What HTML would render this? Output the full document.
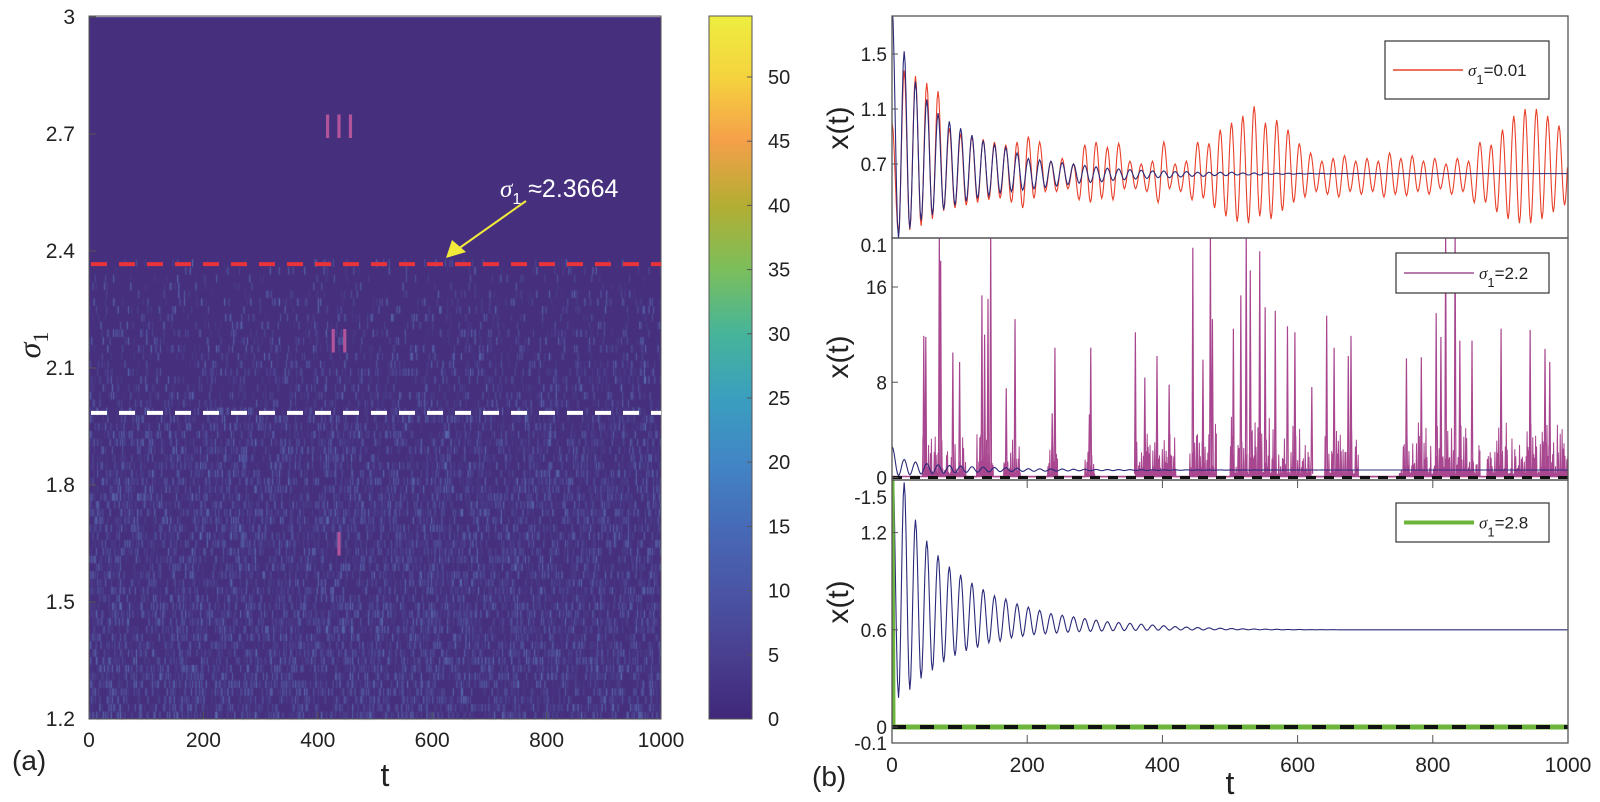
<!DOCTYPE html>
<html><head><meta charset="utf-8">
<style>
html,body{margin:0;padding:0;background:#fff;}
#wrap{position:relative;width:1600px;height:802px;overflow:hidden;font-family:"Liberation Sans Narrow","Liberation Sans",sans-serif;}
canvas{position:absolute;left:0;top:0;}
svg{position:absolute;left:0;top:0;}
</style></head>
<body>
<div id="wrap">
<canvas id="heat" width="1600" height="802"></canvas>
<svg id="fig" width="1600" height="802" xmlns="http://www.w3.org/2000/svg"></svg>
</div>
<script>
// ---------- DATA ----------
const sigmaBandEdges = [1.2, 1.5, 1.8, 2.0, 2.1, 2.2, 2.3, 2.37];
const sigmaBandDensity = [0.42, 0.38, 0.32, 0.22, 0.16, 0.12, 0.07];
const sigmaCritical = 2.3664;
const sigmaWhite = 1.985;
const heatYTicks = [1.2, 1.5, 1.8, 2.1, 2.4, 2.7, 3];
const heatYTickLabels = ["1.2", "1.5", "1.8", "2.1", "2.4", "2.7", "3"];
const tTicks = [0, 200, 400, 600, 800, 1000];
const tTickLabels = ["0", "200", "400", "600", "800", "1000"];
const cbTicks = [0, 5, 10, 15, 20, 25, 30, 35, 40, 45, 50];
const cbStops = [0, 5, 10, 15, 20, 25, 30, 35, 40, 45, 50, 54.7];
const cbColors = ["#40287a","#4a3f90","#4b55a6","#476bb8","#4286c6","#3a9fbf","#46b59a","#7cbf5c","#b4ae33","#f5a04a","#f5d43e","#eeee40"];

const oscStart = 18, oscPeriod = 16.7;
const redPeaks = [1.38,1.34,1.29,1.23,0.96,0.92,0.90,0.88,0.86,0.84,0.86,0.90,0.86,0.72,0.74,0.70,0.84,0.86,0.82,0.85,0.72,0.70,0.72,0.86,0.70,0.72,0.86,0.85,0.95,1.00,1.05,1.12,1.00,1.02,0.95,0.85,0.78,0.72,0.74,0.76,0.72,0.74,0.72,0.78,0.74,0.76,0.72,0.74,0.70,0.74,0.72,0.86,0.84,0.95,1.05,1.10,1.10,1.05,0.98,0.95];
const redTroughs = [0.20,0.22,0.25,0.30,0.36,0.38,0.40,0.42,0.44,0.45,0.42,0.38,0.45,0.50,0.50,0.52,0.44,0.42,0.45,0.44,0.52,0.52,0.50,0.42,0.52,0.50,0.44,0.45,0.38,0.32,0.28,0.27,0.32,0.30,0.36,0.42,0.46,0.50,0.48,0.46,0.50,0.48,0.50,0.46,0.48,0.47,0.50,0.48,0.52,0.48,0.50,0.42,0.42,0.35,0.30,0.27,0.27,0.30,0.35,0.40];
const bluePeaks = [1.52,1.30,1.17,1.07,1.01,0.96,0.91,0.87,0.84,0.82,0.78,0.74,0.73,0.72,0.71,0.70,0.69,0.68,0.67,0.665,0.66,0.655,0.65,0.65,0.645,0.645,0.64,0.64,0.64,0.64,0.635,0.635,0.635,0.633,0.633,0.632,0.632,0.632,0.631,0.631,0.631,0.63,0.63,0.63,0.63,0.63,0.63,0.63,0.63,0.63,0.63,0.63,0.63,0.63,0.63,0.63,0.63,0.63,0.63,0.63];
const blueTroughs = [0.16,0.23,0.29,0.33,0.37,0.40,0.43,0.45,0.47,0.49,0.50,0.51,0.52,0.53,0.54,0.55,0.56,0.565,0.57,0.58,0.585,0.59,0.595,0.60,0.60,0.605,0.61,0.61,0.615,0.615,0.62,0.62,0.62,0.625,0.625,0.626,0.627,0.628,0.628,0.629,0.629,0.63,0.63,0.63,0.63,0.63,0.63,0.63,0.63,0.63,0.63,0.63,0.63,0.63,0.63,0.63,0.63,0.63,0.63,0.63];
const blue3Peaks = [1.51,1.28,1.15,1.06,0.99,0.94,0.89,0.85,0.81,0.79,0.76,0.74,0.72,0.70,0.69,0.68,0.67,0.66,0.65,0.645,0.64,0.635,0.63,0.625,0.62,0.617,0.614,0.612,0.61,0.608,0.606,0.605,0.604,0.603,0.602,0.602,0.601,0.601,0.601,0.6,0.6,0.6,0.6,0.6,0.6,0.6,0.6,0.6,0.6,0.6,0.6,0.6,0.6,0.6,0.6,0.6,0.6,0.6,0.6,0.6];
const blue3Troughs = [0.18,0.23,0.30,0.35,0.40,0.44,0.47,0.49,0.52,0.53,0.55,0.56,0.57,0.575,0.58,0.585,0.588,0.59,0.592,0.594,0.595,0.596,0.597,0.598,0.598,0.599,0.599,0.599,0.6,0.6,0.6,0.6,0.6,0.6,0.6,0.6,0.6,0.6,0.6,0.6,0.6,0.6,0.6,0.6,0.6,0.6,0.6,0.6,0.6,0.6,0.6,0.6,0.6,0.6,0.6,0.6,0.6,0.6,0.6,0.6];

const spikeT = [47,50,70,72,90,100,133,137,142,146,169,182,237,241,292,294,360,374,392,410,445,460,471,474,505,516,524,530,544,552,567,585,596,621,643,654,675,679,761,783,805,812,819,833,840,858,901,944,966,973];
const spikeH = [11.9,11.8,21,18.2,10.5,9.7,15.3,12,15,21,7.5,13.3,5.4,10.9,5.3,10.9,12.2,8.4,10.2,7.8,19.3,9.9,21,13.3,12.5,15.3,21,17.4,19,14.3,14,12.7,12.2,7.6,13.6,10.9,10.2,11.9,10,10.1,13.8,11.8,21,21,11.5,11.5,12.5,12.4,10.8,9.7];
const burstStart = [45,125,165,230,285,360,440,500,640,750,880];
const burstEnd = [110,150,190,245,300,420,480,620,690,870,1000];
const burstAmp = [4,4,3,2.5,2.5,3.5,5,5,4,4.5,4.5];

// ---------- helpers ----------
const NS = "http://www.w3.org/2000/svg";
const svg = document.getElementById("fig");
function mk(tag, attrs, parent) {
  const e = document.createElementNS(NS, tag);
  for (const k in attrs) e.setAttribute(k, attrs[k]);
  (parent || svg).appendChild(e);
  return e;
}
function hash(a, b) {
  let h = (a * 374761393 + b * 668265263) | 0;
  h = (h ^ (h >>> 13)) * 1274126177 | 0;
  h = h ^ (h >>> 16);
  return ((h >>> 0) % 10000) / 10000;
}
const FONT = '"Liberation Sans Narrow","Liberation Sans",sans-serif';

const L = {x0: 89, x1: 661, y0: 17, y1: 719};
const hx = t => L.x0 + (t / 1000) * (L.x1 - L.x0);
const hy = s => L.y1 - (s - 1.2) / 1.8 * (L.y1 - L.y0);
const R = {x0: 892, x1: 1568};
const rx = t => R.x0 + (t / 1000) * (R.x1 - R.x0);
const P1 = {top: 16, bot: 238, y: v => 164 - (v - 0.7) * (110 / 0.8)};
const P2 = {top: 238, bot: 480, y: v => 477.5 - v * (190.5 / 16)};
const P3 = {top: 480, bot: 743, y: v => 727 - v * (194.4 / 1.2)};
const CB = {x0: 709, x1: 752, y0: 16, y1: 719, y: v => 719 - v * (642 / 50)};

// ---------- heatmap (canvas) ----------
const cv = document.getElementById("heat");
const ctx = cv.getContext("2d");
ctx.fillStyle = "#46307e";
ctx.fillRect(L.x0, L.y0, L.x1 - L.x0, L.y1 - L.y0);
function bandDensity(s) {
  for (let i = 0; i < sigmaBandDensity.length; i++) if (s >= sigmaBandEdges[i] && s < sigmaBandEdges[i + 1]) return sigmaBandDensity[i];
  return 0;
}
for (let r = 0; r < 117; r += 2) {
  const s = 1.2 + r * 0.01;
  const d = bandDensity(s);
  const yTop = hy(s + 0.02), yBot = hy(s);
  for (let c = 0; c < 500; c++) {
    const h = hash(r, c);
    if (h < d) {
      const k = hash(c + 7, r + 13);
      const inten = 0.15 + 0.85 * k * k;
      const R_ = Math.round(70 + 20 * inten), G_ = Math.round(48 + 62 * inten), B_ = Math.round(126 + 52 * inten);
      ctx.fillStyle = `rgb(${R_},${G_},${B_})`;
      ctx.fillRect(hx(c * 2), yTop + 0.5, 1.15, yBot - yTop - 0.3);
    }
  }
}
const grd = ctx.createLinearGradient(0, CB.y1, 0, CB.y0);
cbStops.forEach((v, i) => grd.addColorStop(Math.min(1, v / 54.7), cbColors[i]));
ctx.fillStyle = grd;
ctx.fillRect(CB.x0, CB.y0, CB.x1 - CB.x0, CB.y1 - CB.y0);

// ---------- left panel svg ----------
const gL = mk("g", { });
mk("rect", {x: L.x0, y: L.y0 - 1, width: L.x1 - L.x0, height: L.y1 - L.y0 + 1, fill: "none", stroke: "#555", "stroke-width": 1,  }, gL);
heatYTicks.forEach((s, i) => {
  const y = hy(s);
  mk("line", {x1: L.x0, x2: L.x0 + 7, y1: y, y2: y, stroke: "#555", "stroke-width": 1}, gL);
  const t = mk("text", {x: L.x0 - 14, y: y + 7, "text-anchor": "end", "font-size": 21, fill: "#222", "font-family": FONT}, gL);
  t.textContent = heatYTickLabels[i];
  
  
});
tTicks.forEach((v, i) => {
  const x = hx(v);
  mk("line", {x1: x, x2: x, y1: L.y1, y2: L.y1 - 7, stroke: "#555", "stroke-width": 1}, gL);
  const t = mk("text", {x: x, y: 747, "text-anchor": "middle", "font-size": 21, fill: "#222", "font-family": FONT}, gL);
  t.textContent = tTickLabels[i];
  
  
});
mk("line", {x1: L.x0 + 2, x2: L.x1, y1: hy(sigmaCritical), y2: hy(sigmaCritical), stroke: "#e8333a", "stroke-width": 4, "stroke-dasharray": "16 12",  }, gL);
mk("line", {x1: L.x0 + 2, x2: L.x1, y1: hy(sigmaWhite), y2: hy(sigmaWhite), stroke: "#ffffff", "stroke-width": 4, "stroke-dasharray": "16 12",  }, gL);
[["III", 2.72], ["II", 2.17], ["I", 1.65]].forEach(([lab, s]) => {
  const t = mk("text", {x: 340, y: hy(s) + 12, "text-anchor": "middle", "font-size": 34, fill: "#b2549a", "font-family": FONT, "letter-spacing": "2"}, gL);
  t.textContent = lab;
  
  
});
const ann = mk("text", {x: 500, y: 197, "font-size": 25, fill: "#fff", "font-family": '"Liberation Sans",sans-serif'}, gL);
ann.innerHTML = '<tspan font-style="italic" font-family="Liberation Serif, serif">σ</tspan><tspan font-size="16" dy="7">1</tspan><tspan dy="-7"> ≈2.3664</tspan>';


mk("line", {x1: 526, y1: 201, x2: 458, y2: 249, stroke: "#f2ea3a", "stroke-width": 2,  }, gL);
mk("polygon", {points: "446,258 452,240 466,252", fill: "#f2ea3a",  }, gL);
const ylab = mk("text", {x: 0, y: 0, "font-size": 32, fill: "#222", "font-family": '"Liberation Serif",serif', transform: "translate(40,345) rotate(-90)", "text-anchor": "middle"}, gL);
ylab.innerHTML = '<tspan font-style="italic">σ</tspan><tspan font-size="22" dy="8">1</tspan>';


const xlabL = mk("text", {x: 385, y: 786, "font-size": 32, fill: "#222", "font-family": FONT, "text-anchor": "middle"}, gL);
xlabL.textContent = "t";


const pa = mk("text", {x: 12, y: 770, "font-size": 28, fill: "#222", "font-family": '"Liberation Sans",sans-serif'}, gL);
pa.textContent = "(a)";



const gCB = mk("g", { });
mk("rect", {x: CB.x0, y: CB.y0, width: CB.x1 - CB.x0, height: CB.y1 - CB.y0, fill: "none", stroke: "#555", "stroke-width": 1}, gCB);
cbTicks.forEach(v => {
  const y = CB.y(v);
  mk("line", {x1: CB.x1 - 5, x2: CB.x1, y1: y, y2: y, stroke: "#555", "stroke-width": 1}, gCB);
  const t = mk("text", {x: 768, y: y + 7, "font-size": 20, fill: "#222", "font-family": FONT}, gCB);
  t.textContent = String(v);
  
  
});

function oscPath(startV, troughs, peaks, yf) {
  const ext = [[0, startV]];
  for (let k = 0; k < peaks.length; k++) {
    const tp = oscStart + k * oscPeriod;
    ext.push([tp - oscPeriod / 2, troughs[k]]);
    ext.push([tp, peaks[k]]);
  }
  let d = "";
  for (let i = 0; i < ext.length - 1; i++) {
    const [t0, v0] = ext[i], [t1, v1] = ext[i + 1];
    for (let j = 0; j <= 6; j++) {
      const f = j / 6, w = (1 - Math.cos(Math.PI * f)) / 2;
      const t = t0 + (t1 - t0) * f;
      if (t > 1000) break;
      const v = v0 + (v1 - v0) * w;
      d += (d ? "L" : "M") + rx(t).toFixed(2) + "," + yf(v).toFixed(2);
    }
  }
  return d;
}
function panelFrame(P, name, yticks, ylabels) {
  const g = mk("g", { });
  const cid = name + "-clip";
  const cp = mk("clipPath", {id: cid}, g);
  mk("rect", {x: R.x0, y: P.top, width: R.x1 - R.x0, height: P.bot - P.top}, cp);
  const inner = mk("g", {"clip-path": `url(#${cid})`}, g);
  yticks.forEach((v, i) => {
    const y = P.y(v);
    mk("line", {x1: R.x0, x2: R.x0 + 6, y1: y, y2: y, stroke: "#555", "stroke-width": 1}, g);
    const t = mk("text", {x: R.x0 - 5, y: y + 7, "text-anchor": "end", "font-size": 19, fill: "#222", "font-family": FONT}, g);
    t.textContent = ylabels[i];
    
    
  });
  return {g, inner};
}
function legend(g, x0, y0, x1, y1, color, w, label) {
  const lg = mk("g", { }, g);
  mk("rect", {x: x0, y: y0, width: x1 - x0, height: y1 - y0, fill: "#fff", stroke: "#333", "stroke-width": 1.2}, lg);
  const ym = (y0 + y1) / 2;
  mk("line", {x1: x0 + 8, x2: x0 + 78, y1: ym, y2: ym, stroke: color, "stroke-width": w}, lg);
  const t = mk("text", {x: x0 + 83, y: ym + 6, "font-size": 17, fill: "#222", "font-family": FONT}, lg);
  t.innerHTML = '<tspan font-style="italic" font-family="Liberation Serif, serif">σ</tspan><tspan font-size="13" dy="8">1</tspan><tspan dy="-8">=' + label + '</tspan>';
}

const p1 = panelFrame(P1, "panel-sigma-0-01", [1.5, 1.1, 0.7], ["1.5", "1.1", "0.7"]);
mk("path", {d: oscPath(1.0, redTroughs, redPeaks, P1.y), fill: "none", stroke: "#e8402a", "stroke-width": 1.1,  }, p1.inner);
mk("path", {d: oscPath(1.85, blueTroughs, bluePeaks, P1.y), fill: "none", stroke: "#2b2a7a", "stroke-width": 1.1,  }, p1.inner);
legend(p1.g, 1385, 41, 1549, 99, "#e8402a", 1.5, "0.01");
const l01 = mk("text", {x: R.x0 - 5, y: 252, "text-anchor": "end", "font-size": 19, fill: "#222", "font-family": FONT,  });
l01.textContent = "0.1";

const p2 = panelFrame(P2, "panel-sigma-2-2", [16, 8, 0], ["16", "8", "0"]);
let dB = "";
burstStart.forEach((s, i) => {
  for (let t = s, j = 0; t <= burstEnd[i]; t += 0.7, j++) {
    const v = (j % 2 === 0) ? 0.05 : burstAmp[i] * Math.pow(hash(i * 1000 + j, 77), 2.0) + 0.3;
    dB += (dB ? "L" : "M") + rx(t).toFixed(2) + "," + P2.y(v).toFixed(2);
  }
  dB += "L" + rx(burstEnd[i]).toFixed(2) + "," + P2.y(0.05).toFixed(2);
});
mk("line", {x1: R.x0, x2: R.x1, y1: P2.y(0.08), y2: P2.y(0.08), stroke: "#a8468f", "stroke-width": 1.5}, p2.inner);
mk("path", {d: dB, fill: "none", stroke: "#a8468f", "stroke-width": 1,  }, p2.inner);
let dS = "";
spikeT.forEach((t, i) => {
  const x = rx(t);
  dS += `M${(x - 0.8).toFixed(2)},${P2.y(0.3).toFixed(2)}L${x.toFixed(2)},${P2.y(spikeH[i]).toFixed(2)}L${(x + 0.8).toFixed(2)},${P2.y(0.3).toFixed(2)}`;
});
mk("path", {d: dS, fill: "none", stroke: "#a8468f", "stroke-width": 1.2,  }, p2.inner);
mk("path", {d: oscPath(2.6, blueTroughs, bluePeaks, P2.y), fill: "none", stroke: "#2b2a7a", "stroke-width": 1.1,  }, p2.inner);
mk("line", {x1: R.x0, x2: R.x1, y1: P2.y(0), y2: P2.y(0), stroke: "#111", "stroke-width": 3, "stroke-dasharray": "10 8",  }, p2.inner);
legend(p2.g, 1396, 253, 1549, 293, "#a0508f", 1.5, "2.2");

const p3 = panelFrame(P3, "panel-sigma-2-8", [1.2, 0.6, 0], ["1.2", "0.6", "0"]);
mk("path", {d: oscPath(1.8, blue3Troughs, blue3Peaks, P3.y), fill: "none", stroke: "#2b2a7a", "stroke-width": 1.1,  }, p3.inner);
mk("path", {d: `M${rx(0)},${P3.top}L${rx(0)+1},${P3.y(0)}L${R.x1},${P3.y(0)}`, fill: "none", stroke: "#6cb53a", "stroke-width": 5,  }, p3.inner);
mk("line", {x1: R.x0, x2: R.x1, y1: P3.y(0), y2: P3.y(0), stroke: "#111", "stroke-width": 4, "stroke-dasharray": "14 14",  }, p3.inner);
legend(p3.g, 1396, 503, 1549, 542, "#6cb53a", 4, "2.8");
const lm15 = mk("text", {x: R.x0 - 5, y: 504, "text-anchor": "end", "font-size": 19, fill: "#222", "font-family": FONT,  });
lm15.textContent = "-1.5";
const lm01 = mk("text", {x: R.x0 - 5, y: 750, "text-anchor": "end", "font-size": 19, fill: "#222", "font-family": FONT,  });
lm01.textContent = "-0.1";

[P1, P2, P3].forEach(P => {
  mk("rect", {x: R.x0, y: P.top, width: R.x1 - R.x0, height: P.bot - P.top, fill: "none", stroke: "#555", "stroke-width": 1.3,  });
});
tTicks.forEach((v, i) => {
  const x = rx(v);
  mk("line", {x1: x, x2: x, y1: P3.bot, y2: P3.bot - 8, stroke: "#555", "stroke-width": 1});
  mk("line", {x1: x, x2: x, y1: P3.top, y2: P3.top + 8, stroke: "#555", "stroke-width": 1});
  const t = mk("text", {x: x, y: 772, "text-anchor": "middle", "font-size": 21, fill: "#222", "font-family": FONT});
  t.textContent = tTickLabels[i];
  
  
});
[[128, "x-label-top"], [357, "x-label-middle"], [602, "x-label-bottom"]].forEach(([y, n]) => {
  const t = mk("text", {x: 0, y: 0, "font-size": 30, fill: "#222", "font-family": '"Liberation Sans",sans-serif', transform: `translate(848,${y}) rotate(-90)`, "text-anchor": "middle"});
  t.textContent = "x(t)";
  
  
});
const xlabR = mk("text", {x: 1230, y: 794, "font-size": 32, fill: "#222", "font-family": FONT, "text-anchor": "middle"});
xlabR.textContent = "t";


const pb = mk("text", {x: 812, y: 786, "font-size": 28, fill: "#222", "font-family": '"Liberation Sans",sans-serif'});
pb.textContent = "(b)";


</script>
</body></html>
